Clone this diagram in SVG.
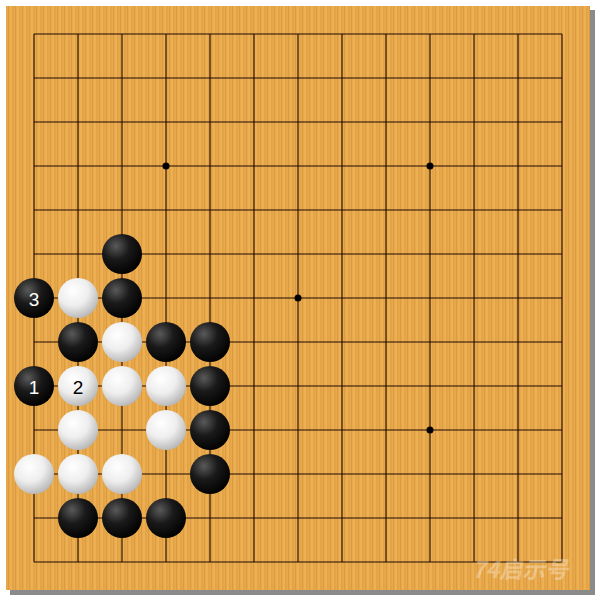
<svg xmlns="http://www.w3.org/2000/svg" width="600" height="600" viewBox="0 0 600 600">
<style>
.grid line{stroke:#1e0a04;stroke-width:1.1}
.star{fill:#000}
.lbl{font-family:"Liberation Sans",Arial,sans-serif;font-size:19px;text-anchor:middle;dominant-baseline:central}
.lb{fill:#fff}
.lw{fill:#000}
</style>
<defs>
<pattern id="grain" width="7" height="600" patternUnits="userSpaceOnUse">
<rect width="7" height="600" fill="#e8a84b"/>
<rect x="1" width="1" height="600" fill="#d8983e" opacity="0.8"/>
<rect x="3.5" width="1" height="600" fill="#f2b95c" opacity="0.8"/>
<rect x="5.5" width="0.8" height="600" fill="#d6963c" opacity="0.6"/>
</pattern>
<radialGradient id="bg" cx="0.35" cy="0.3" r="0.75">
<stop offset="0" stop-color="#5a5a5a"/>
<stop offset="0.45" stop-color="#1a1a1a"/>
<stop offset="1" stop-color="#000"/>
</radialGradient>
<radialGradient id="wg" cx="0.38" cy="0.32" r="0.75">
<stop offset="0" stop-color="#ffffff"/>
<stop offset="0.5" stop-color="#eeeeee"/>
<stop offset="1" stop-color="#b0b0b0"/>
</radialGradient>
<circle id="B" r="20" fill="url(#bg)"/>
<circle id="W" r="20" fill="url(#wg)"/>
</defs>
<rect width="600" height="600" fill="#fff"/>
<rect x="10" y="10" width="585" height="585" fill="#8a8a8a"/>
<rect id="board" x="6" y="6" width="584" height="584" fill="url(#grain)"/>
<g class="grid">
<line x1="34" y1="34" x2="562" y2="34"/><line x1="34" y1="78" x2="562" y2="78"/><line x1="34" y1="122" x2="562" y2="122"/><line x1="34" y1="166" x2="562" y2="166"/><line x1="34" y1="210" x2="562" y2="210"/><line x1="34" y1="254" x2="562" y2="254"/><line x1="34" y1="298" x2="562" y2="298"/><line x1="34" y1="342" x2="562" y2="342"/><line x1="34" y1="386" x2="562" y2="386"/><line x1="34" y1="430" x2="562" y2="430"/><line x1="34" y1="474" x2="562" y2="474"/><line x1="34" y1="518" x2="562" y2="518"/><line x1="34" y1="562" x2="562" y2="562"/>
<line x1="34" y1="34" x2="34" y2="562"/><line x1="78" y1="34" x2="78" y2="562"/><line x1="122" y1="34" x2="122" y2="562"/><line x1="166" y1="34" x2="166" y2="562"/><line x1="210" y1="34" x2="210" y2="562"/><line x1="254" y1="34" x2="254" y2="562"/><line x1="298" y1="34" x2="298" y2="562"/><line x1="342" y1="34" x2="342" y2="562"/><line x1="386" y1="34" x2="386" y2="562"/><line x1="430" y1="34" x2="430" y2="562"/><line x1="474" y1="34" x2="474" y2="562"/><line x1="518" y1="34" x2="518" y2="562"/><line x1="562" y1="34" x2="562" y2="562"/>
</g>
<g id="stars">
<circle class="star" cx="166" cy="166" r="3.5"/><circle class="star" cx="430" cy="166" r="3.5"/><circle class="star" cx="298" cy="298" r="3.5"/><circle class="star" cx="430" cy="430" r="3.5"/><circle class="star" cx="166" cy="430" r="3.5"/>
</g>
<g id="black-stones">
<use href="#B" x="122" y="254"/><use href="#B" x="122" y="298"/><use href="#B" x="78" y="342"/><use href="#B" x="166" y="342"/><use href="#B" x="210" y="342"/><use href="#B" x="210" y="386"/><use href="#B" x="210" y="430"/><use href="#B" x="210" y="474"/><use href="#B" x="78" y="518"/><use href="#B" x="122" y="518"/><use href="#B" x="166" y="518"/>
</g>
<g id="white-stones">
<use href="#W" x="78" y="298"/><use href="#W" x="122" y="342"/><use href="#W" x="122" y="386"/><use href="#W" x="166" y="386"/><use href="#W" x="78" y="430"/><use href="#W" x="166" y="430"/><use href="#W" x="34" y="474"/><use href="#W" x="78" y="474"/><use href="#W" x="122" y="474"/>
</g>
<g id="move1"><use href="#B" x="34" y="386"/><text class="lbl lb" x="34" y="387">1</text></g>
<g id="move2"><use href="#W" x="78" y="386"/><text class="lbl lw" x="78" y="387">2</text></g>
<g id="move3"><use href="#B" x="34" y="298"/><text class="lbl lb" x="34" y="299">3</text></g>
<text x="520" y="578" font-family="'Noto Sans CJK SC','Liberation Sans',sans-serif" font-size="23" font-weight="bold" font-style="italic" fill="#fff" opacity="0.3" text-anchor="middle">74启示号</text>
</svg>
